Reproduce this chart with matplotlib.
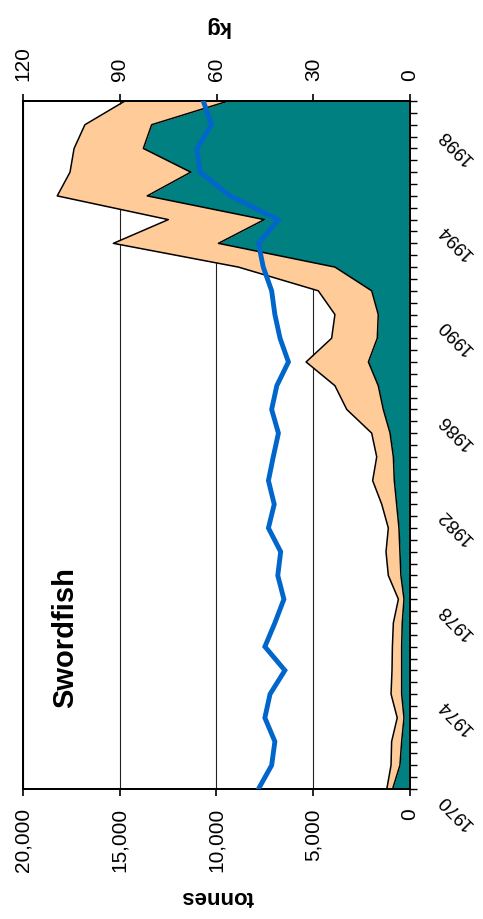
import matplotlib
matplotlib.use("Agg")
import matplotlib.pyplot as plt
import matplotlib.transforms as mtransforms
import numpy as np

plt.rcParams['font.family'] = ['Liberation Sans', 'DejaVu Sans']

years = list(range(1970, 2000))
teal_tonnes = [900, 520, 430, 310, 430, 430, 430, 400, 310, 470,
               520, 570, 690, 810, 860, 1030, 1380, 1640, 2150, 1690,
               1640, 1980, 3880, 9900, 7530, 13580, 11330, 13780, 13350, 9390]
total_tonnes = [1200, 980, 950, 660, 980, 930, 910, 860, 600, 1120,
                1240, 1120, 1460, 1930, 1720, 1980, 3270, 3880, 5370, 4050,
                3880, 4740, 8870, 15330, 12490, 18230, 17570, 17360, 16800, 14730]
peach_tonnes = [t - b for t, b in zip(total_tonnes, teal_tonnes)]
mean_kg = [47.0, 42.9, 41.9, 45.0, 43.4, 38.8, 45.0, 41.9, 39.1, 41.0,
           40.1, 43.9, 42.1, 43.9, 42.4, 40.8, 42.9, 41.3, 37.7, 40.3,
           41.9, 42.9, 45.5, 47.0, 40.8, 55.8, 65.1, 66.1, 61.5, 64.1]

tonne_ticks = [0, 5000, 10000, 15000, 20000]
tonne_labels = ["0", "5,000", "10,000", "15,000", "20,000"]
kg_ticks = [0, 30, 60, 90, 120]
kg_labels = ["0", "30", "60", "90", "120"]
year_ticks = [1970, 1974, 1978, 1982, 1986, 1990, 1994, 1998]
year_labels = ["1970", "1974", "1978", "1982", "1986", "1990", "1994", "1998"]

TEAL = "#008080"
PEACH = "#FFCC99"
BLUE = "#0066CC"

W, H = 483, 920
DPI = 100
fig = plt.figure(figsize=(W / DPI, H / DPI), dpi=DPI)
ax = fig.add_axes([23 / W, 130 / H, 387 / W, 688 / H])

yrs = np.array(years)
teal = np.array(teal_tonnes)
top = teal + np.array(peach_tonnes)

ax.fill_betweenx(yrs, 0, teal, color=TEAL, linewidth=0, zorder=2)
ax.fill_betweenx(yrs, teal, top, color=PEACH, linewidth=0, zorder=2)
ax.plot(teal, yrs, color="black", lw=1.1, zorder=3)
ax.plot(top, yrs, color="black", lw=1.1, zorder=3)

ax.set_xlim(20000, 0)
ax.set_ylim(1970, 1999)
ax.set_axisbelow(True)
ax.set_xticks(tonne_ticks)
ax.set_xticklabels(tonne_labels, rotation=90, fontsize=15)
ax.grid(axis='x', color="#222222", lw=0.8, zorder=0)
ax.tick_params(axis='x', direction='out', length=5, width=1.2, pad=8)

ax.yaxis.tick_right()
ax.set_yticks(year_ticks)
ax.set_yticks(np.arange(1970, 1999.01, 0.5), minor=True)
ax.set_yticklabels([])
ax.tick_params(axis='y', which='both', direction='out', length=5, width=1.0,
               right=True, left=False, labelright=False, labelleft=False)

offset = mtransforms.ScaledTranslation(46 / DPI, -21 / DPI, fig.dpi_scale_trans)
trans = mtransforms.blended_transform_factory(ax.transAxes, ax.transData) + offset
for yv, lab in zip(year_ticks, year_labels):
    ax.text(1.0, yv, lab, transform=trans, rotation=135, ha='center', va='center',
            fontsize=13.5, clip_on=False)

for sp in ax.spines.values():
    sp.set_linewidth(1.3)

ax2 = ax.twiny()
ax2.plot(mean_kg, yrs, color=BLUE, lw=3.5, solid_joinstyle='miter', zorder=4)
ax2.set_xlim(120, 0)
ax2.set_ylim(1970, 1999)
ax2.set_xticks(kg_ticks)
ax2.set_xticklabels(kg_labels, rotation=90, fontsize=15)
ax2.tick_params(axis='x', direction='out', length=5, width=1.2, pad=10)
for sp in ax2.spines.values():
    sp.set_linewidth(1.3)

fig.text(217 / W, 1 - 897 / H, "tonnes", rotation=180, ha='center', va='center',
         fontsize=16, fontweight='bold')
fig.text(217 / W, 1 - 27 / H, "kg", rotation=180, ha='center', va='center',
         fontsize=16, fontweight='bold')
fig.text(65 / W, 1 - 638 / H, "Swordfish", rotation=90, ha='center', va='center',
         fontsize=21, fontweight='bold')

fig.savefig("out.png", dpi=DPI)
